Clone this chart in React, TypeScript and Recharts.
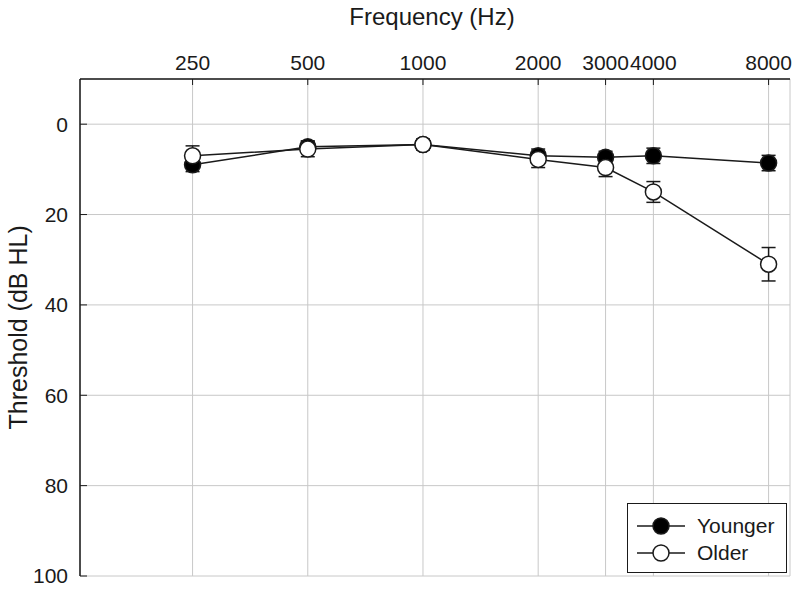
import React from 'react'
import { LineChart, Line, XAxis, YAxis, CartesianGrid, ErrorBar } from 'recharts'

const freqs = [250, 500, 1000, 2000, 3000, 4000, 8000]
const younger = [9, 5, 4.5, 7, 7.3, 7, 8.6]
const youngerErr = [1.5, 1.3, 1, 1.5, 1.3, 1.7, 1.7]
const older = [7, 5.5, 4.5, 7.8, 9.6, 15, 31]
const olderErr = [2.2, 1.7, 1.2, 1.8, 2, 2.3, 3.7]
const yTicks = [0, 20, 40, 60, 80, 100]

const series = [
  { name: 'Younger', fill: '#000' },
  { name: 'Older', fill: '#fff' },
]

const data = freqs.map((f, i) => ({
  freq: f,
  younger: younger[i],
  youngerErr: youngerErr[i],
  older: older[i],
  olderErr: olderErr[i],
}))

const font = '"Liberation Sans", Arial, sans-serif'
const ink = '#1a1a1a'

// legend sits in the lower right corner of the plot, drawn over the grid
function LegendBox() {
  return (
    <div style={{
      position: 'absolute', left: 627, top: 503,
      width: 160, height: 70, border: `1.5px solid ${ink}`, background: '#fff',
      boxSizing: 'border-box', padding: '8px 0 0 9px', fontFamily: font, fontSize: 21, color: ink,
    }}>
      {series.map(s => (
        <div key={s.name} style={{ display: 'flex', alignItems: 'center', height: 27 }}>
          <svg width={50} height={22} style={{ marginRight: 10 }}>
            <line x1={0} y1={11} x2={48} y2={11} stroke={ink} strokeWidth={1.5} />
            <circle cx={24} cy={11} r={8} fill={s.fill} stroke={ink} strokeWidth={1.5} />
          </svg>
          <span>{s.name}</span>
        </div>
      ))}
    </div>
  )
}

export default function App() {
  return (
    <div style={{ position: 'absolute', left: 0, top: 0, width: 800, height: 590, background: '#fff' }}>
      <LineChart width={800} height={590} data={data} margin={{ top: 0, right: 10, bottom: 14, left: 0 }}
        style={{ fontFamily: font }}>
        <CartesianGrid stroke="#c8c8c8" strokeWidth={1} />
        <XAxis dataKey="freq" type="number" scale="log" domain={[127, 9100]} ticks={freqs} interval={0}
          orientation="top" height={79} axisLine={{ stroke: ink, strokeWidth: 1.5 }}
          tickLine={{ stroke: ink }} tickSize={-6} tickMargin={15}
          tick={{ fill: ink, fontSize: 21 }}
          label={{ value: 'Frequency (Hz)', position: 'insideTop', offset: 8, fill: ink, fontSize: 24, dx: -3 }} />
        <XAxis xAxisId="b" dataKey="freq" type="number" scale="log" domain={[127, 9100]} orientation="bottom"
          height={0} tick={false} tickLine={false} axisLine={{ stroke: ink, strokeWidth: 1.5 }} />
        <YAxis type="number" domain={[-10, 100]} reversed ticks={yTicks} interval={0} width={80}
          axisLine={{ stroke: ink, strokeWidth: 1.5 }} tickLine={{ stroke: ink }} tickSize={-7} tickMargin={19}
          tick={{ fill: ink, fontSize: 21 }}
          label={{ value: 'Threshold (dB HL)', angle: -90, position: 'insideLeft', offset: 18, fill: ink, fontSize: 25, dy: 102 }} />
        <YAxis yAxisId="r" orientation="right" width={0} tick={false} tickLine={false}
          axisLine={{ stroke: ink, strokeWidth: 1.5 }} />
        <Line dataKey="younger" name="Younger" stroke={ink} strokeWidth={1.5} isAnimationActive={false}
          dot={{ r: 8, fill: '#000', stroke: ink, strokeWidth: 1.5 }}>
          <ErrorBar dataKey="youngerErr" direction="y" width={7} stroke={ink} strokeWidth={1.5} isAnimationActive={false} />
        </Line>
        <Line dataKey="older" name="Older" stroke={ink} strokeWidth={1.5} isAnimationActive={false}
          dot={{ r: 8, fill: '#fff', stroke: ink, strokeWidth: 1.5 }}>
          <ErrorBar dataKey="olderErr" direction="y" width={7} stroke={ink} strokeWidth={1.5} isAnimationActive={false} />
        </Line>
      </LineChart>
      <LegendBox />
    </div>
  )
}
